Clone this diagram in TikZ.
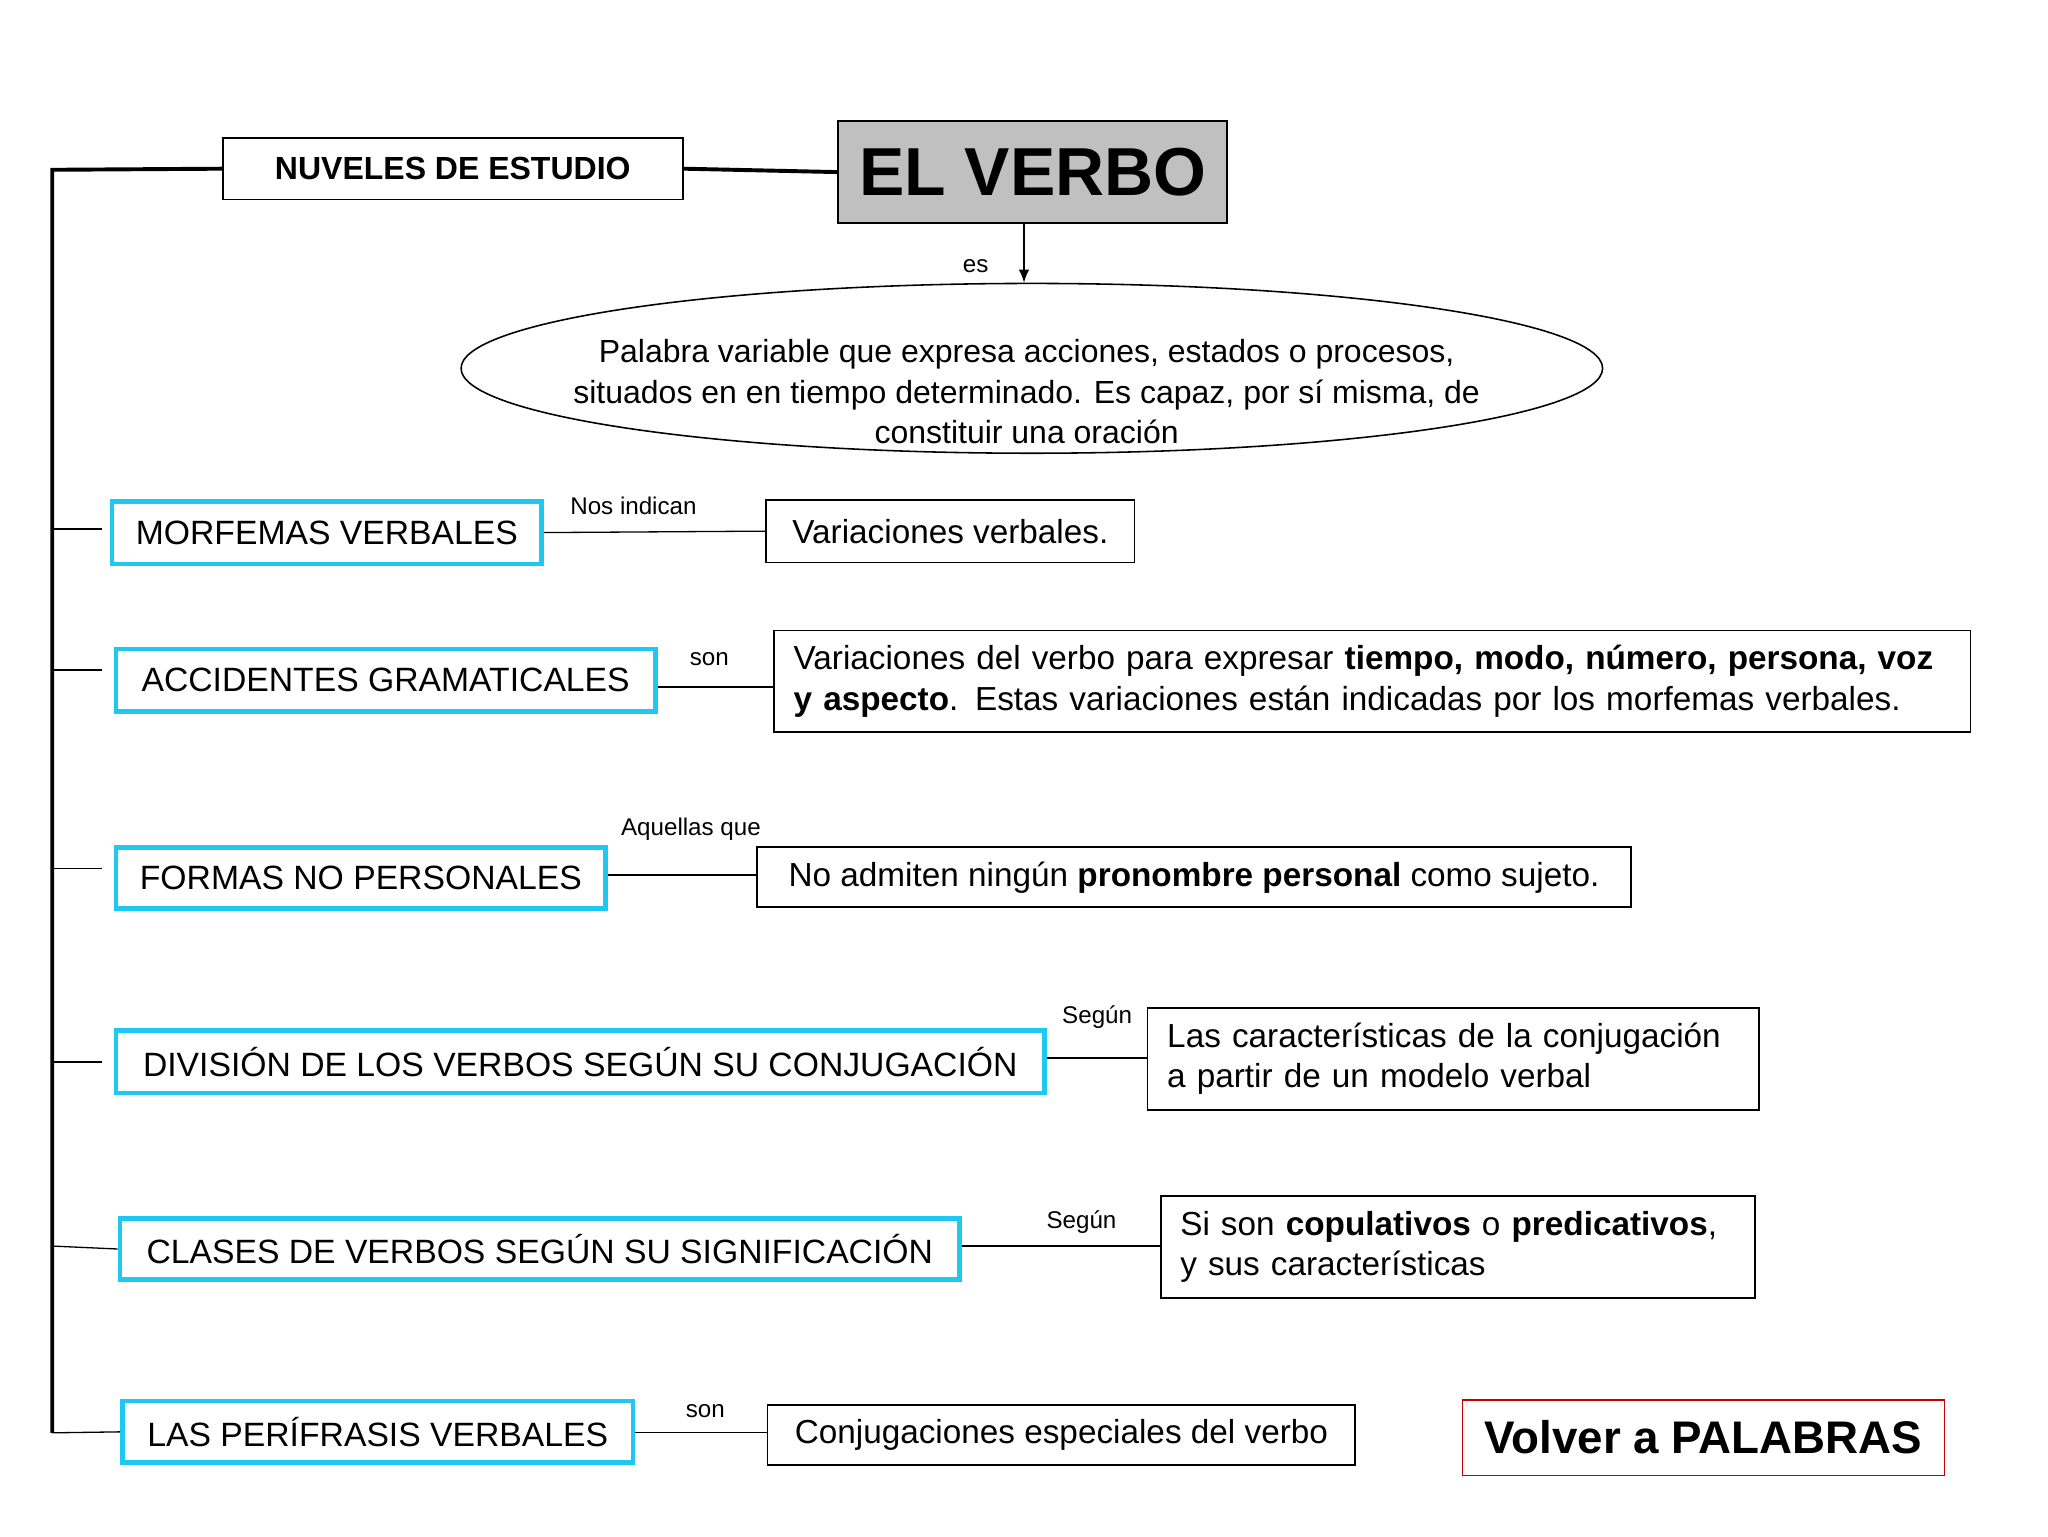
\documentclass[tikz,border=0pt]{standalone}
\usepackage{fontspec}
\setmainfont{Liberation Sans}
\usetikzlibrary{shapes.geometric,arrows.meta}
\definecolor{cy}{RGB}{30,200,240}
\definecolor{gr}{RGB}{192,192,192}
\newcommand\bx[7]{%
  \pgfmathsetmacro\bw{#4-#2}\pgfmathsetmacro\bh{#5-#3}%
  \node[#6, anchor=north west, minimum width=\bw pt, minimum height=\bh pt] (#1) at (#2,#3) {#7};}
\begin{document}
\begin{tikzpicture}[x=1pt,y=-1pt,
  cbox/.style={draw=cy, line width=3.5pt, font=\fontsize{25.8}{30}\selectfont, inner sep=0pt},
  tbox/.style={draw=black, line width=1.3pt, font=\fontsize{25.5}{31}\selectfont, inner sep=0pt},
  lbl/.style={font=\fontsize{18.5}{22}\selectfont},
  ln/.style={line width=1pt},
  thk/.style={line width=3pt}]
\useasboundingbox (0,0) rectangle (1568,1176);
\fill[white] (0,0) rectangle (1568,1176);
% top
\bx{nuv}{170}{105}{522}{152}{draw, line width=1.3pt, font=\bfseries\fontsize{24.5}{28}\selectfont}{NUVELES DE ESTUDIO}
\bx{verbo}{641}{92}{939}{170}{draw, fill=gr, line width=1.5pt, font=\bfseries\fontsize{52}{58}\selectfont}{EL VERBO}
\coordinate (tl) at (40,130);
\coordinate (bl) at (40,1097);
\draw[thk] (bl) -- (tl) -- (nuv.west);
\draw[thk] (nuv.east) -- (verbo.west);
\node[draw, ellipse, line width=1.2pt, minimum width=874pt, minimum height=130pt] (el) at (790,282) {};
\node[font=\fontsize{24.5}{31}\selectfont, align=center] at (786,300) {Palabra variable que expresa acciones, estados o procesos,\\situados en en tiempo determinado. Es capaz, por sí misma, de\\constituir una oración};
\draw[ln, -{Latex[length=10pt,width=8pt]}] (784,170) -- (el.north -| 784,0);
\node[lbl] at (747,204) {es};
% rows
\bx{m1}{84}{382}{413}{430}{cbox}{MORFEMAS VERBALES}
\bx{d1}{586}{382}{868}{430}{tbox}{Variaciones verbales.}
\bx{m2}{87}{495}{500}{543}{cbox}{ACCIDENTES GRAMATICALES}
\bx{d2}{592}{482}{1508}{560}{tbox, text width=886pt, align=left}{Variaciones del verbo para expresar \textbf{tiempo, modo, número, persona, voz}\\\textbf{y aspecto}. Estas variaciones están indicadas por los morfemas verbales.}
\bx{m3}{87}{647}{462}{694}{cbox}{FORMAS NO PERSONALES}
\bx{d3}{579}{648}{1248}{694}{tbox}{No admiten ningún \textbf{pronombre personal} como sujeto.}
\bx{m4}{87}{787}{798}{835}{cbox}{DIVISIÓN DE LOS VERBOS SEGÚN SU CONJUGACIÓN}
\bx{d4}{878}{771}{1346}{849}{tbox, text width=438pt, align=left}{Las características de la conjugación\\a partir de un modelo verbal}
\bx{m5}{90}{931}{733}{978}{cbox}{CLASES DE VERBOS SEGÚN SU SIGNIFICACIÓN}
\bx{d5}{888}{915}{1343}{993}{tbox, text width=425pt, align=left}{Si son \textbf{copulativos} o \textbf{predicativos},\\y sus características}
\bx{m6}{92}{1071}{483}{1118}{cbox}{LAS PERÍFRASIS VERBALES}
\bx{d6}{587}{1075}{1037}{1121}{tbox}{Conjugaciones especiales del verbo}
\bx{volver}{1119}{1071}{1488}{1129}{draw=red!80!black, line width=1.3pt, font=\bfseries\fontsize{35}{40}\selectfont}{Volver a PALABRAS}
% ticks
\draw[ln] (40,405) -- (78,405);
\draw[ln] (40,513) -- (78,513);
\draw[ln] (40,665) -- (78,665);
\draw[ln] (40,813) -- (78,813);
\draw[ln] (40,954) -- (m5.west);
\draw[ln] (bl) -- (m6.west);
% connectors
\draw[ln] (m1.east) -- (d1.west);
\node[lbl] at (485,387) {Nos indican};
\draw[ln] (m2.east |- 0,526) -- (d2.west |- 0,526);
\node[lbl] at (543,505) {son};
\draw[ln] (m3.east |- 0,670) -- (d3.west |- 0,670);
\node[lbl] at (529,635) {Aquellas que};
\draw[ln] (m4.east |- 0,810) -- (d4.west |- 0,810);
\node[lbl] at (840,779) {Según};
\draw[ln] (m5.east |- 0,954) -- (d5.west |- 0,954);
\node[lbl] at (828,936) {Según};
\draw[ln] (m6.east |- 0,1097) -- (d6.west |- 0,1097);
\node[lbl] at (540,1080) {son};
\end{tikzpicture}
\end{document}
